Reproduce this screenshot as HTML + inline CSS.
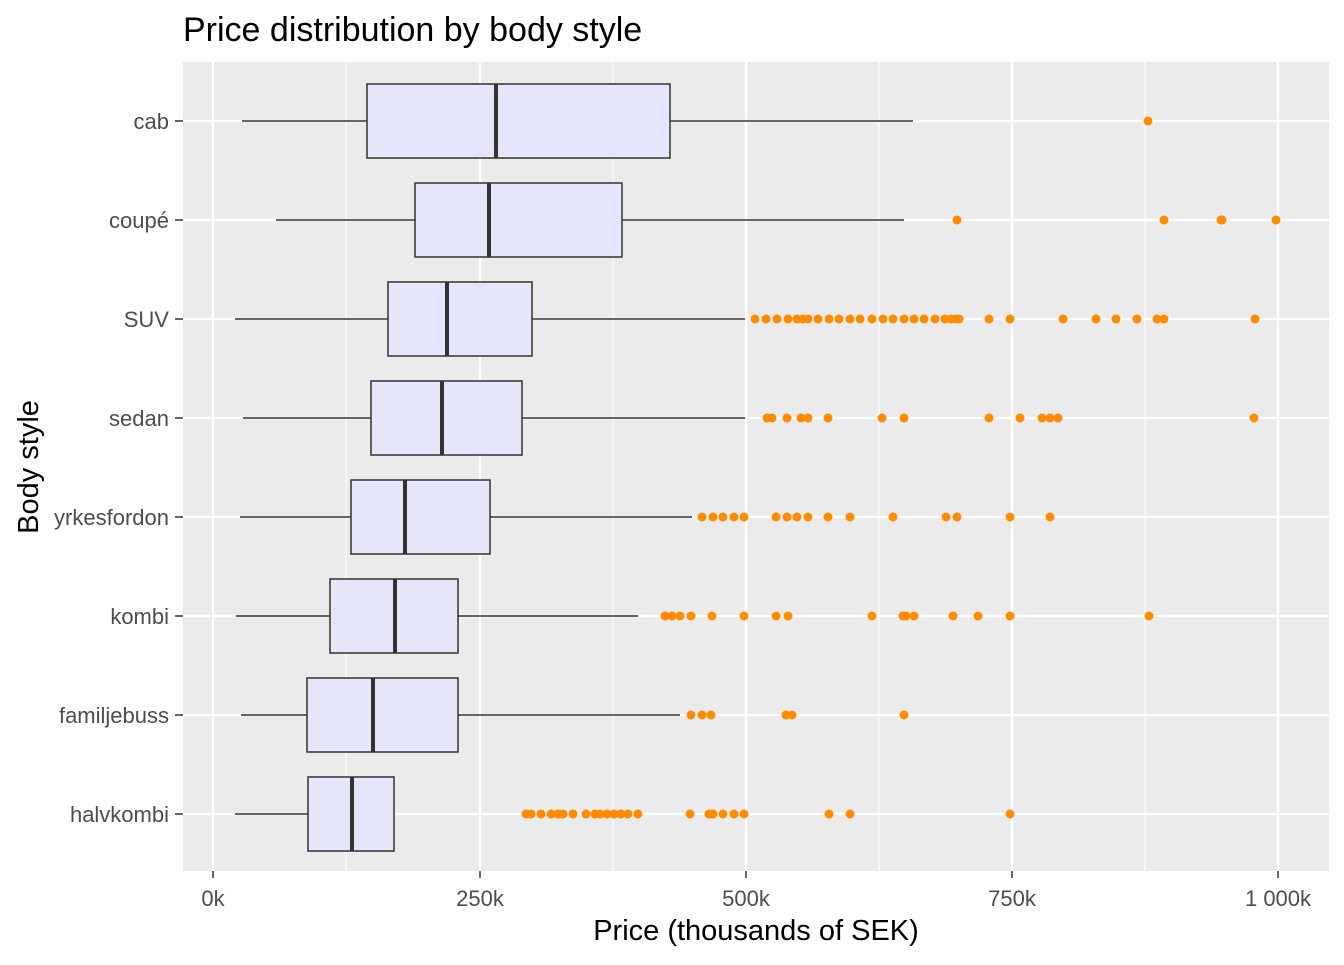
<!DOCTYPE html>
<html><head><meta charset="utf-8"><style>body{margin:0;background:#fff}</style></head><body>
<svg width="1344" height="960" xmlns="http://www.w3.org/2000/svg" font-family="Liberation Sans, sans-serif">
<rect x="0" y="0" width="1344" height="960" fill="#fff"/>
<rect x="183" y="62" width="1146" height="809" fill="#EBEBEB"/>
<g stroke="#fff" stroke-width="1.1">
<line x1="346" y1="62" x2="346" y2="871"/><line x1="613" y1="62" x2="613" y2="871"/><line x1="879" y1="62" x2="879" y2="871"/><line x1="1145" y1="62" x2="1145" y2="871"/>
</g>
<g stroke="#fff" stroke-width="2.2">
<line x1="213" y1="62" x2="213" y2="871"/><line x1="480" y1="62" x2="480" y2="871"/><line x1="746" y1="62" x2="746" y2="871"/><line x1="1012" y1="62" x2="1012" y2="871"/><line x1="1278" y1="62" x2="1278" y2="871"/>
<line x1="183" y1="121" x2="1329" y2="121"/><line x1="183" y1="220" x2="1329" y2="220"/><line x1="183" y1="319" x2="1329" y2="319"/><line x1="183" y1="418" x2="1329" y2="418"/><line x1="183" y1="517" x2="1329" y2="517"/><line x1="183" y1="616" x2="1329" y2="616"/><line x1="183" y1="715" x2="1329" y2="715"/><line x1="183" y1="814" x2="1329" y2="814"/>
</g>
<g id="boxes" stroke="#333" stroke-width="1.5" fill="#E6E6FA"></g>
<g id="pts" fill="#FF8C00"></g>
<g font-size="22" fill="#4D4D4D" text-anchor="end">
<text x="169" y="129">cab</text><text x="169" y="228">coupé</text><text x="169" y="327">SUV</text><text x="169" y="426">sedan</text><text x="169" y="525">yrkesfordon</text><text x="169" y="624">kombi</text><text x="169" y="723">familjebuss</text><text x="169" y="822">halvkombi</text>
</g>
<g stroke="#333" stroke-width="1.5">
<line x1="175" y1="121" x2="183" y2="121"/><line x1="175" y1="220" x2="183" y2="220"/><line x1="175" y1="319" x2="183" y2="319"/><line x1="175" y1="418" x2="183" y2="418"/><line x1="175" y1="517" x2="183" y2="517"/><line x1="175" y1="616" x2="183" y2="616"/><line x1="175" y1="715" x2="183" y2="715"/><line x1="175" y1="814" x2="183" y2="814"/>
<line x1="213" y1="871" x2="213" y2="878"/><line x1="480" y1="871" x2="480" y2="878"/><line x1="746" y1="871" x2="746" y2="878"/><line x1="1012" y1="871" x2="1012" y2="878"/><line x1="1278" y1="871" x2="1278" y2="878"/>
</g>
<g font-size="22" fill="#4D4D4D" text-anchor="middle">
<text x="213" y="906">0k</text><text x="480" y="906">250k</text><text x="746" y="906">500k</text><text x="1012" y="906">750k</text><text x="1278" y="906">1 000k</text>
</g>
<text x="756" y="940" font-size="29" text-anchor="middle">Price (thousands of SEK)</text>
<text transform="translate(38,467) rotate(-90)" font-size="29" text-anchor="middle">Body style</text>
<text x="183" y="41" font-size="34">Price distribution by body style</text>
</svg>
<script>
var d=[[121,242,913,367,670,496,[1148]],
[220,276,904,415,622,489,[957,1164,1221,1222,1276]],
[319,235,745,388,532,447,[755,766,777,788,797,803,808,818,829,839,850,860,872,883,893,904,914,924,935,945,951,956,959,989,1010,1063,1096,1116,1137,1157,1164,1255]],
[418,243,745,371,522,442,[767,772,787,801,808,828,882,904,989,1020,1042,1050,1058,1254]],
[517,240,692,351,490,405,[702,713,723,734,744,776,787,797,808,828,850,893,946,957,1010,1050]],
[616,236,638,330,458,395,[665,672,680,691,712,744,776,788,872,903,906,914,953,978,1010,1149]],
[715,241,680,307,458,373,[691,702,711,786,792,904]],
[814,235,394,308,394,352,[526,531,541,551,558,563,573,586,595,600,607,614,621,628,638,690,709,713,723,734,744,829,850,1010]]];
var ns="http://www.w3.org/2000/svg",b=document.getElementById("boxes"),p=document.getElementById("pts");
function el(t,a,g){var e=document.createElementNS(ns,t);for(var k in a)e.setAttribute(k,a[k]);g.appendChild(e);}
d.forEach(function(r){var y=r[0];
el("line",{x1:r[1],y1:y,x2:r[2],y2:y},b);
el("rect",{x:r[3],y:y-37,width:r[4]-r[3],height:74},b);
el("line",{x1:r[5],y1:y-37,x2:r[5],y2:y+37,"stroke-width":4},b);
r[6].forEach(function(x){el("circle",{cx:x,cy:y,r:4.5},p);});});
</script>
</body></html>
